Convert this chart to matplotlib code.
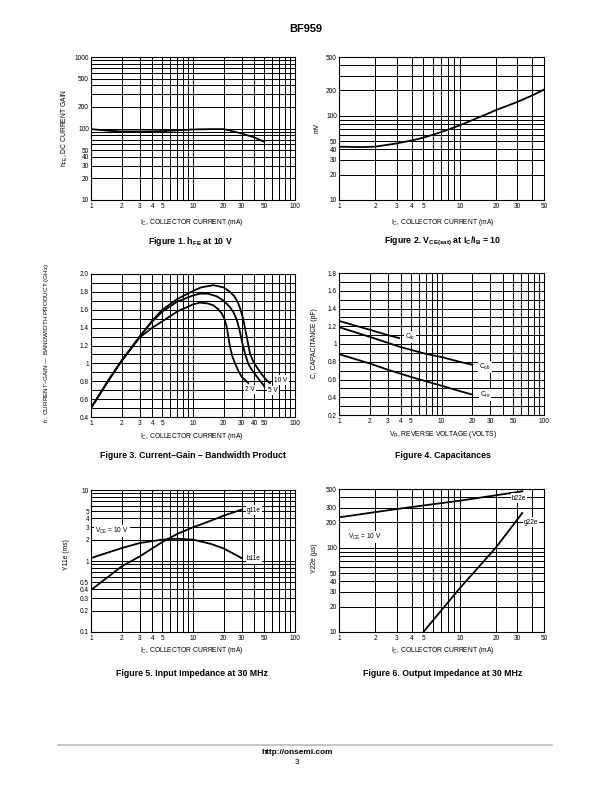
import matplotlib
matplotlib.use("Agg")
import matplotlib.pyplot as plt
from matplotlib.ticker import FixedLocator, FixedFormatter

plt.rcParams['font.family'] = ['Liberation Sans Narrow', 'Liberation Sans', 'DejaVu Sans']
plt.rcParams['mathtext.default'] = 'regular'

# ---------------- data ----------------
# Figure 1: hFE vs IC
f1_ic = [1, 1.5, 2, 3, 5, 7, 10, 15, 20, 25, 30, 40, 50]
f1_hfe = [98, 93, 91, 91, 92, 94, 97, 98, 98, 91, 85, 75, 65]

# Figure 2: VCE(sat) vs IC
f2_ic = [1, 1.5, 2, 3, 4, 5, 7, 10, 15, 20, 30, 40, 50]
f2_mv = [43, 42.5, 43, 47, 51, 55, 64, 77, 98, 117, 146, 175, 205]

# Figure 3: fT vs IC
f3_ic_10 = [1, 1.5, 2, 3, 4, 5, 7, 10, 12, 15.8, 20, 23, 25.5, 27.8, 29.5, 31.1, 33.6, 36.2, 39, 42.1, 47, 52.8, 56.9]
f3_ft_10 = [0.5, 0.82, 1.03, 1.3, 1.48, 1.6, 1.72, 1.81, 1.85, 1.875, 1.85, 1.80, 1.75, 1.67, 1.59, 1.49, 1.30, 1.11, 1.02, 0.96, 0.88, 0.81, 0.78]
f3_ic_5 = [1, 1.5, 2, 3, 4, 5, 7, 10, 11.7, 14, 17.1, 20, 23, 25, 26.8, 28.5, 30, 32.3, 35, 37.6, 43, 48.9, 50]
f3_ft_5 = [0.5, 0.82, 1.03, 1.3, 1.47, 1.58, 1.69, 1.76, 1.78, 1.78, 1.75, 1.70, 1.63, 1.57, 1.49, 1.38, 1.26, 1.11, 0.99, 0.93, 0.84, 0.76, 0.74]
f3_ic_2 = [1, 1.5, 2, 3, 4, 5, 7, 10, 11.7, 14, 15.8, 17.5, 19.1, 20.3, 21.4, 23, 24.3, 25.8, 28, 30, 34.9]
f3_ft_2 = [0.5, 0.82, 1.03, 1.29, 1.40, 1.47, 1.58, 1.66, 1.68, 1.67, 1.65, 1.61, 1.56, 1.50, 1.41, 1.19, 1.08, 1.0, 0.91, 0.85, 0.78]

# Figure 4: capacitances vs VR
f4_vr_cib = [1, 2, 3, 3.85]
f4_cib = [1.26, 1.16, 1.10, 1.067]
f4_vr_cob = [1, 2, 4, 7, 10, 15, 20]
f4_cob = [1.19, 1.08, 0.965, 0.89, 0.853, 0.80, 0.766]
f4_vr_cre = [1, 2, 3, 5, 10, 15, 20]
f4_cre = [0.886, 0.78, 0.71, 0.63, 0.53, 0.47, 0.43]

# Figure 5: Y11e vs IC
f5_ic = [1, 2, 3, 5, 7, 10, 15, 20, 30]
f5_g11e = [0.39, 0.84, 1.16, 1.85, 2.4, 2.98, 3.7, 4.35, 5.3]
f5_b11e = [1.1, 1.52, 1.79, 2.0, 2.06, 2.0, 1.74, 1.5, 1.1]

# Figure 6: Y22e vs IC
f6_ic_b = [1, 3, 10, 33]
f6_b22e = [230, 289, 363, 469]
f6_ic_g = [5, 10, 20, 33]
f6_g22e = [10, 33, 101, 259]

W, H = 612, 792
fig = plt.figure(figsize=(W / 72, H / 72), dpi=72)

BOLD = ['Liberation Sans', 'DejaVu Sans']
TK = 6.5     # tick label size
LB = 6.7     # axis label size


def ax_at(x0, y0, x1, y1):
    return fig.add_axes([x0 / W, 1 - y1 / H, (x1 - x0) / W, (y1 - y0) / H])


def txt(x, y, s, **kw):
    kw.setdefault('ha', 'center')
    kw.setdefault('va', 'center')
    fig.text(x / W, 1 - y / H, s, **kw)


def log_grid(lo, hi):
    vals = []
    d = 1e-3
    while d < hi * 10:
        for m in range(1, 10):
            v = m * d
            if lo - 1e-9 <= v <= hi + 1e-9:
                vals.append(round(v, 6))
        d *= 10
    return vals


def style(ax, xlim, ylim, xlabels, ylabels, ylog=True, ystep=None):
    ax.set_xscale('log')
    ax.set_xlim(*xlim)
    if ylog:
        ax.set_yscale('log')
    ax.set_ylim(*ylim)
    xg = log_grid(*xlim)
    ax.xaxis.set_major_locator(FixedLocator(xg))
    ax.xaxis.set_minor_locator(FixedLocator([]))
    ax.xaxis.set_major_formatter(FixedFormatter(
        [xlabels.get(v, '') for v in xg]))
    if ylog:
        yg = log_grid(*ylim)
    else:
        n = int(round((ylim[1] - ylim[0]) / ystep))
        yg = [round(ylim[0] + i * ystep, 4) for i in range(n + 1)]
    ax.yaxis.set_major_locator(FixedLocator(yg))
    ax.yaxis.set_minor_locator(FixedLocator([]))
    ax.yaxis.set_major_formatter(FixedFormatter(
        [ylabels.get(round(v, 4), '') for v in yg]))
    ax.grid(True, which='major', color='black', lw=1.0)
    ax.tick_params(length=0, labelsize=TK, pad=3)
    ax.tick_params(axis='y', pad=2)
    for s in ax.spines.values():
        s.set_linewidth(1.1)
    ax.set_axisbelow(True)


CW = 1.8
title_kw = dict(fontsize=8.8, fontweight='bold', family=BOLD)
lab_kw = dict(fontsize=LB)
box = dict(facecolor='white', edgecolor='none', pad=1.2)

# header / footer
txt(306, 29, 'BF959', fontsize=11, fontweight='bold', family=BOLD)
fig.add_artist(plt.Line2D([58 / W, 552 / W], [1 - 745 / H, 1 - 745 / H], color='#b8b8b8', lw=1.6))
txt(297, 752, 'http://onsemi.com', fontsize=8.3, fontweight='bold', family=BOLD)
txt(297, 763, '3', fontsize=8, family=BOLD)

# ---------- Figure 1 ----------
ax1 = ax_at(91, 57, 295, 200)
style(ax1, (1, 100), (10, 1000),
      {1: '1', 2: '2', 3: '3', 4: '4', 5: '5', 10: '10', 20: '20', 30: '30', 50: '50', 100: '100'},
      {10: '10', 20: '20', 30: '30', 40: '40', 50: '50', 100: '100', 200: '200', 500: '500', 1000: '1000'})
ax1.plot(f1_ic, f1_hfe, color='black', lw=CW)
txt(65, 128, '$h_{FE}$, DC CURRENT GAIN', rotation=90, **lab_kw)
txt(192, 222, '$I_C$, COLLECTOR CURRENT (mA)', **lab_kw)
txt(190, 241, 'Figure 1. $h_{FE}$ at 10 V', **title_kw)

# ---------- Figure 2 ----------
ax2 = ax_at(339, 57, 544, 200)
style(ax2, (1, 50), (10, 500),
      {1: '1', 2: '2', 3: '3', 4: '4', 5: '5', 10: '10', 20: '20', 30: '30', 50: '50'},
      {10: '10', 20: '20', 30: '30', 40: '40', 50: '50', 100: '100', 200: '200', 500: '500'})
ax2.plot(f2_ic, f2_mv, color='black', lw=CW)
txt(317, 128, 'mV', rotation=90, **lab_kw)
txt(443, 222, '$I_C$, COLLECTOR CURRENT (mA)', **lab_kw)
txt(443, 241, 'Figure 2. $V_{CE(sat)}$ at $I_C/I_B$ = 10', **title_kw)

# ---------- Figure 3 ----------
ax3 = ax_at(91, 274, 295, 417)
style(ax3, (1, 100), (0.4, 2.0),
      {1: '1', 2: '2', 3: '3', 4: '4', 5: '5', 10: '10', 20: '20', 30: '30', 40: '40', 50: '50', 100: '100'},
      {0.4: '0.4', 0.6: '0.6', 0.8: '0.8', 1.0: '1', 1.2: '1.2', 1.4: '1.4', 1.6: '1.6', 1.8: '1.8', 2.0: '2.0'},
      ylog=False, ystep=0.1)
ax3.plot(f3_ic_10, f3_ft_10, color='black', lw=CW)
ax3.plot(f3_ic_5, f3_ft_5, color='black', lw=CW)
ax3.plot(f3_ic_2, f3_ft_2, color='black', lw=CW)
txt(281, 380, '10 V', fontsize=TK, bbox=box)
txt(250, 389.5, '2 V', fontsize=TK, bbox=box)
txt(273, 390.5, '5 V', fontsize=TK, bbox=box)
fig.add_artist(plt.Line2D([257 / W, 263 / W], [1 - 389.5 / H, 1 - 389.5 / H], color='black', lw=0.8))
txt(47, 343, '$f_T$, CURRENT\u2013GAIN \u2014 BANDWIDTH PRODUCT (GHz)', rotation=90, fontsize=6.4)
txt(192, 436, '$I_C$, COLLECTOR CURRENT (mA)', **lab_kw)
txt(193, 455, 'Figure 3. Current\u2013Gain \u2013 Bandwidth Product', **title_kw)

# ---------- Figure 4 ----------
ax4 = ax_at(339, 273, 544, 415)
style(ax4, (1, 100), (0.2, 1.8),
      {1: '1', 2: '2', 3: '3', 4: '4', 5: '5', 10: '10', 20: '20', 30: '30', 50: '50', 100: '100'},
      {0.2: '0.2', 0.4: '0.4', 0.6: '0.6', 0.8: '0.8', 1.0: '1', 1.2: '1.2', 1.4: '1.4', 1.6: '1.6', 1.8: '1.8'},
      ylog=False, ystep=0.1)
ax4.plot(f4_vr_cib, f4_cib, color='black', lw=CW)
ax4.plot(f4_vr_cob, f4_cob, color='black', lw=CW)
ax4.plot(f4_vr_cre, f4_cre, color='black', lw=CW)
txt(410, 337, '$C_{ib}$', fontsize=TK, bbox=box)
txt(485, 367, '$C_{ob}$', fontsize=TK, bbox=box)
txt(485, 395, '$C_{re}$', fontsize=TK, bbox=box)
txt(315, 343, 'C, CAPACITANCE (pF)', rotation=90, **lab_kw)
txt(443, 435, '$V_R$, REVERSE VOLTAGE (VOLTS)', **lab_kw)
txt(443, 455, 'Figure 4. Capacitances', **title_kw)

# ---------- Figure 5 ----------
ax5 = ax_at(91, 490, 295, 632)
style(ax5, (1, 100), (0.1, 10),
      {1: '1', 2: '2', 3: '3', 4: '4', 5: '5', 10: '10', 20: '20', 30: '30', 50: '50', 100: '100'},
      {0.1: '0.1', 0.2: '0.2', 0.3: '0.3', 0.4: '0.4', 0.5: '0.5', 1: '1', 2: '2', 3: '3', 4: '4', 5: '5', 10: '10'})
ax5.plot(f5_ic, f5_g11e, color='black', lw=CW)
ax5.plot(f5_ic, f5_b11e, color='black', lw=CW)
txt(254, 510, 'g11e', fontsize=TK, bbox=box)
txt(254, 559, 'b11e', fontsize=TK, bbox=box)
txt(95, 531, '$V_{CE}$ = 10 V', fontsize=TK, ha='left', bbox=box)
txt(67, 555, 'Y11e (ms)', rotation=90, **lab_kw)
txt(192, 651, '$I_C$, COLLECTOR CURRENT (mA)', **lab_kw)
txt(192, 673, 'Figure 5. Input Impedance at 30 MHz', **title_kw)

# ---------- Figure 6 ----------
ax6 = ax_at(339, 489, 544, 632)
style(ax6, (1, 50), (10, 500),
      {1: '1', 2: '2', 3: '3', 4: '4', 5: '5', 10: '10', 20: '20', 30: '30', 50: '50'},
      {10: '10', 20: '20', 30: '30', 40: '40', 50: '50', 100: '100', 200: '200', 300: '300', 500: '500'})
ax6.plot(f6_ic_b, f6_b22e, color='black', lw=CW)
ax6.plot(f6_ic_g, f6_g22e, color='black', lw=CW)
txt(519, 498, 'b22e', fontsize=TK, bbox=box)
txt(531, 522, 'g22e', fontsize=TK, bbox=box)
txt(348, 537, '$V_{CE}$ = 10 V', fontsize=TK, ha='left', bbox=box)
txt(315, 558, 'Y22e (\u00b5s)', rotation=90, **lab_kw)
txt(443, 651, '$I_C$, COLLECTOR CURRENT (mA)', **lab_kw)
txt(443, 673, 'Figure 6. Output Impedance at 30 MHz', **title_kw)

fig.savefig('out.png', dpi=72)
